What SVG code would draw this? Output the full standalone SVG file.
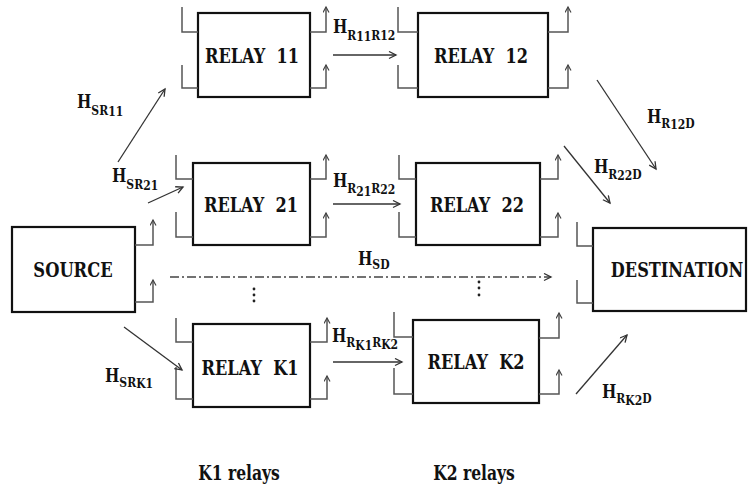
<svg xmlns="http://www.w3.org/2000/svg" width="748" height="487" viewBox="0 0 748 487">
<defs>
<marker id="ah" markerWidth="10" markerHeight="10" refX="8" refY="4" orient="auto" markerUnits="userSpaceOnUse">
<path d="M1,0.5 L8,4 L1,7.5" fill="none" stroke="#333" stroke-width="1.3"/>
</marker>
<marker id="ant" markerWidth="8" markerHeight="8" refX="6" refY="3.5" orient="auto" markerUnits="userSpaceOnUse">
<path d="M0.5,0.5 L6,3.5 L0.5,6.5" fill="none" stroke="#444" stroke-width="1.2"/>
</marker>
</defs>
<style>
.box{fill:#fff;stroke:#111;stroke-width:2.2}
.an{fill:none;stroke:#555;stroke-width:1.5}
.aa{fill:none;stroke:#555;stroke-width:1.5;marker-end:url(#ant)}
.cn{fill:none;stroke:#333;stroke-width:1.3;marker-end:url(#ah)}
.sd{fill:none;stroke:#444;stroke-width:1.3;stroke-dasharray:9 3 2 3;marker-end:url(#ah)}
text{font-family:'DejaVu Serif','Liberation Serif',serif;font-weight:bold;fill:#111}
.lb{font-size:19px;text-anchor:middle}
.h{font-size:19px}
.s{font-size:13.5px}
.dot{fill:#222}
</style>
<g id="source">
<rect class="box" x="12" y="227" width="123" height="85"/>
<path class="aa" d="M135,245 H153 V220"/>
<path class="aa" d="M135,302 H153 V280"/>
<text class="lb" transform="translate(73,277) scale(0.86,1.08)">SOURCE</text>
</g>
<g id="relay11">
<rect class="box" x="198" y="13" width="112" height="84"/>
<path class="an" d="M198,32 H182 V7 M198,88 H182 V65"/>
<path class="aa" d="M310,32 H326 V7"/>
<path class="aa" d="M310,88 H326 V65"/>
<text class="lb" transform="translate(252,63) scale(0.85,1.08)" xml:space="preserve">RELAY  11</text>
</g>
<g id="relay12">
<rect class="box" x="418" y="13" width="130" height="84"/>
<path class="an" d="M418,32 H398 V7 M418,88 H398 V65"/>
<path class="aa" d="M548,32 H568 V7"/>
<path class="aa" d="M548,88 H568 V65"/>
<text class="lb" transform="translate(481,63) scale(0.85,1.08)" xml:space="preserve">RELAY  12</text>
</g>
<g id="relay21">
<rect class="box" x="193" y="163" width="117" height="82"/>
<path class="an" d="M193,179 H176 V155 M193,237 H176 V212"/>
<path class="aa" d="M310,179 H326 V155"/>
<path class="aa" d="M310,237 H326 V213"/>
<text class="lb" transform="translate(251,212) scale(0.85,1.08)" xml:space="preserve">RELAY  21</text>
</g>
<g id="relay22">
<rect class="box" x="416" y="163" width="124" height="82"/>
<path class="an" d="M416,179 H399 V155 M416,237 H399 V212"/>
<path class="aa" d="M540,179 H558 V155"/>
<path class="aa" d="M540,237 H558 V213"/>
<text class="lb" transform="translate(477,212) scale(0.85,1.08)" xml:space="preserve">RELAY  22</text>
</g>
<g id="relayK1">
<rect class="box" x="193" y="324" width="117" height="83"/>
<path class="an" d="M193,342 H176 V318 M193,399 H176 V367"/>
<path class="aa" d="M310,342 H327 V318"/>
<path class="aa" d="M310,399 H327 V376"/>
<text class="lb" transform="translate(250,375) scale(0.85,1.08)" xml:space="preserve">RELAY  K1</text>
</g>
<g id="relayK2">
<rect class="box" x="413" y="320" width="126" height="83"/>
<path class="an" d="M413,337 H394 V312 M413,394 H394 V368"/>
<path class="aa" d="M539,338 H559 V313"/>
<path class="aa" d="M539,394 H559 V370"/>
<text class="lb" transform="translate(476,369) scale(0.85,1.08)" xml:space="preserve">RELAY  K2</text>
</g>
<g id="destination">
<rect class="box" x="593" y="228" width="153" height="83"/>
<path class="an" d="M593,246 H577 V222 M593,303 H577 V280"/>
<text class="lb" transform="translate(677,277) scale(0.85,1.08)">DESTINATION</text>
</g>
<g id="connectors">
<line class="cn" x1="118" y1="162" x2="165" y2="89"/>
<line class="cn" x1="148" y1="203" x2="183" y2="187"/>
<line class="cn" x1="124" y1="327" x2="182" y2="370"/>
<line class="cn" x1="333" y1="55" x2="396" y2="55"/>
<line class="cn" x1="333" y1="204" x2="400" y2="204"/>
<line class="cn" x1="333" y1="362" x2="402" y2="362"/>
<line class="cn" x1="597" y1="80" x2="656" y2="169"/>
<line class="cn" x1="564" y1="146" x2="610" y2="203"/>
<line class="cn" x1="576" y1="394" x2="627" y2="335"/>
<line class="sd" x1="170" y1="277" x2="551" y2="277"/>
</g>
<g id="dots">
<circle class="dot" cx="254" cy="289" r="1.4"/>
<circle class="dot" cx="254" cy="295" r="1.4"/>
<circle class="dot" cx="254" cy="301" r="1.4"/>
<circle class="dot" cx="479" cy="282" r="1.4"/>
<circle class="dot" cx="479" cy="288" r="1.4"/>
<circle class="dot" cx="479" cy="295" r="1.4"/>
</g>
<g id="labels">
<text class="h" transform="translate(77,108) scale(0.8,1)">H<tspan class="s" dy="7">SR</tspan><tspan class="s" dy="1">11</tspan></text>
<text class="h" transform="translate(112,182) scale(0.8,1)">H<tspan class="s" dy="7">SR</tspan><tspan class="s" dy="1">21</tspan></text>
<text class="h" transform="translate(105,382) scale(0.8,1)">H<tspan class="s" dy="5">SR</tspan><tspan class="s" dy="1">K1</tspan></text>
<text class="h" transform="translate(333,33) scale(0.8,1)">H<tspan class="s" dy="7">R</tspan><tspan class="s" dy="1">11</tspan><tspan class="s" dy="-1">R</tspan><tspan class="s" dy="0">12</tspan></text>
<text class="h" transform="translate(333,187) scale(0.8,1)">H<tspan class="s" dy="6">R</tspan><tspan class="s" dy="3">21</tspan><tspan class="s" dy="-3">R</tspan><tspan class="s" dy="1">22</tspan></text>
<text class="h" transform="translate(332,342) scale(0.8,1)">H<tspan class="s" dy="5">R</tspan><tspan class="s" dy="3">K1</tspan><tspan class="s" dy="-3">R</tspan><tspan class="s" dy="2">K2</tspan></text>
<text class="h" transform="translate(358,265) scale(0.8,1)">H<tspan class="s" dy="4">SD</tspan></text>
<text class="h" transform="translate(647,123) scale(0.8,1)">H<tspan class="s" dy="5">R</tspan><tspan class="s" dy="1">12</tspan><tspan class="s" dy="-1">D</tspan></text>
<text class="h" transform="translate(594,173) scale(0.8,1)">H<tspan class="s" dy="6">R</tspan><tspan class="s" dy="1">22</tspan><tspan class="s" dy="-1">D</tspan></text>
<text class="h" transform="translate(602,398) scale(0.8,1)">H<tspan class="s" dy="5">R</tspan><tspan class="s" dy="2">K2</tspan><tspan class="s" dy="-2">D</tspan></text>
<text class="lb" transform="translate(239,480) scale(0.82,1.08)">K1 relays</text>
<text class="lb" transform="translate(474,480) scale(0.82,1.08)">K2 relays</text>
</g>
</svg>
